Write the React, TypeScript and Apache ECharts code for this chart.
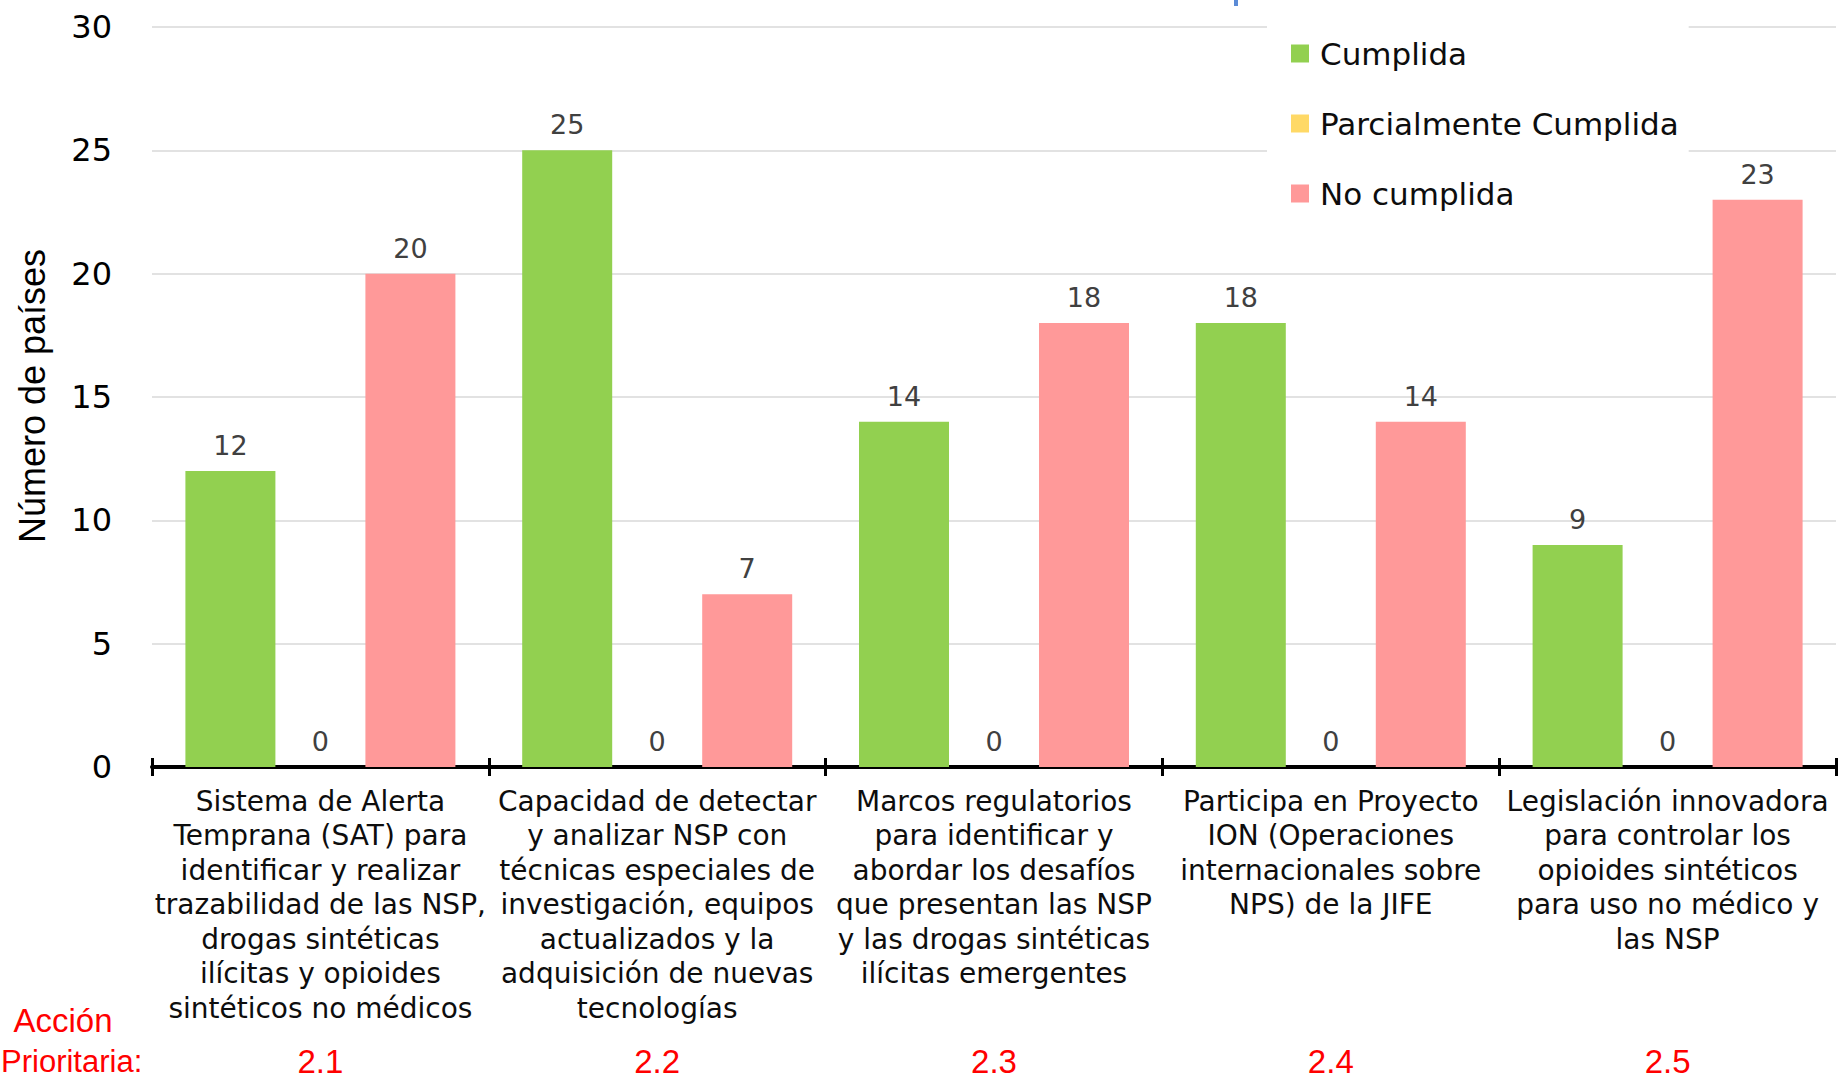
import React, { useEffect, useRef } from "react";
import * as echarts from "echarts";

const categories = [
  "Sistema de Alerta\nTemprana (SAT) para\nidentificar y realizar\ntrazabilidad de las NSP,\ndrogas sintéticas\nilícitas y opioides\nsintéticos no médicos",
  "Capacidad de detectar\ny analizar NSP con\ntécnicas especiales de\ninvestigación, equipos\nactualizados y la\nadquisición de nuevas\ntecnologías",
  "Marcos regulatorios\npara identificar y\nabordar los desafíos\nque presentan las NSP\ny las drogas sintéticas\nilícitas emergentes",
  "Participa en Proyecto\nION (Operaciones\ninternacionales sobre\nNPS) de la JIFE",
  "Legislación innovadora\npara controlar los\nopioides sintéticos\npara uso no médico y\nlas NSP",
];
const actionCodes = ["2.1", "2.2", "2.3", "2.4", "2.5"];
const seriesNames = ["Cumplida", "Parcialmente Cumplida", "No cumplida"];
const cumplida = [12, 25, 14, 18, 9];
const parcialmente = [0, 0, 0, 0, 0];
const noCumplida = [20, 7, 18, 14, 23];
const yTicks = { min: 0, max: 30, interval: 5 };
const yTitle = "Número de países";
const actionLine1 = "Acción";
const actionLine2 = "Prioritaria:";

const colors = ["#92D050", "#FFD966", "#FF9999"];

export default function App() {
  const ref = useRef<HTMLDivElement>(null);
  useEffect(() => {
    if (!ref.current) return;
    const chart = echarts.init(ref.current, null, { renderer: "svg" });
    const mkSeries = (name: string, data: number[], color: string) => ({
      name,
      type: "bar",
      data,
      barWidth: 90,
      barGap: "0%",
      itemStyle: { color },
      label: {
        show: true,
        position: "top",
        distance: 12,
        color: "#404040",
        fontFamily: "DejaVu Sans",
        fontSize: 27,
      },
    });
    chart.setOption({
      animation: false,
      backgroundColor: "#ffffff",
      grid: { left: 152, right: 3, top: 27, bottom: 314 },
      legend: {
        orient: "vertical",
        left: 1267,
        top: 16,
        padding: [22, 10, 22, 24],
        backgroundColor: "#ffffff",
        itemWidth: 18,
        itemHeight: 18,
        itemGap: 39,
        icon: "rect",
        textStyle: {
          fontFamily: "DejaVu Sans",
          fontSize: 31,
          color: "#0d0d0d",
          padding: [0, 0, 0, 6],
        },
        data: seriesNames,
      },
      xAxis: [
        {
          type: "category",
          data: categories,
          axisLine: { show: true, lineStyle: { color: "#000", width: 4 } },
          axisTick: { show: true, length: 9, lineStyle: { color: "#000", width: 3 } },
          axisLabel: {
            interval: 0,
            margin: 17,
            color: "#0d0d0d",
            fontFamily: "DejaVu Sans",
            fontSize: 28,
            lineHeight: 34.5,
          },
        },
        {
          type: "category",
          data: categories,
          position: "bottom",
          axisLine: { show: false },
          axisTick: { show: true, inside: true, length: 9, lineStyle: { color: "#000", width: 3 } },
          axisLabel: { show: false },
        },
        {
          type: "category",
          data: actionCodes,
          position: "bottom",
          offset: 278,
          axisLine: { show: false },
          axisTick: { show: false },
          axisLabel: {
            interval: 0,
            margin: 0,
            color: "#FF0000",
            fontFamily: "Liberation Sans",
            fontSize: 33,
          },
        },
      ],
      yAxis: {
        type: "value",
        min: yTicks.min,
        max: yTicks.max,
        interval: yTicks.interval,
        axisLine: { show: false },
        axisTick: { show: false },
        axisLabel: {
          margin: 40,
          color: "#000",
          fontFamily: "DejaVu Sans",
          fontSize: 32,
        },
        splitLine: { lineStyle: { color: "#D9D9D9", width: 1.5 } },
      },
      graphic: [
        {
          type: "text",
          x: 32,
          y: 396,
          rotation: Math.PI / 2,
          style: {
            text: yTitle,
            fill: "#000",
            fontFamily: "Liberation Sans",
            fontSize: 36,
            textAlign: "center",
            textVerticalAlign: "middle",
          },
        },
        {
          type: "text",
          x: 63,
          y: 1020,
          style: {
            text: actionLine1,
            fill: "#FF0000",
            fontFamily: "Liberation Sans",
            fontSize: 33,
            textAlign: "center",
            textVerticalAlign: "middle",
          },
        },
        {
          type: "text",
          x: 1,
          y: 1061,
          style: {
            text: actionLine2,
            fill: "#FF0000",
            fontFamily: "Liberation Sans",
            fontSize: 31,
            textAlign: "left",
            textVerticalAlign: "middle",
          },
        },
        {
          type: "rect",
          shape: { x: 1234, y: 0, width: 4, height: 6 },
          style: { fill: "#5B8BD6" },
        },
      ],
      series: [
        mkSeries(seriesNames[0], cumplida, colors[0]),
        mkSeries(seriesNames[1], parcialmente, colors[1]),
        mkSeries(seriesNames[2], noCumplida, colors[2]),
      ],
    });
    return () => chart.dispose();
  }, []);
  return (
    <div
      ref={ref}
      style={{ position: "fixed", left: 0, top: 0, width: 1839, height: 1081 }}
    />
  );
}
